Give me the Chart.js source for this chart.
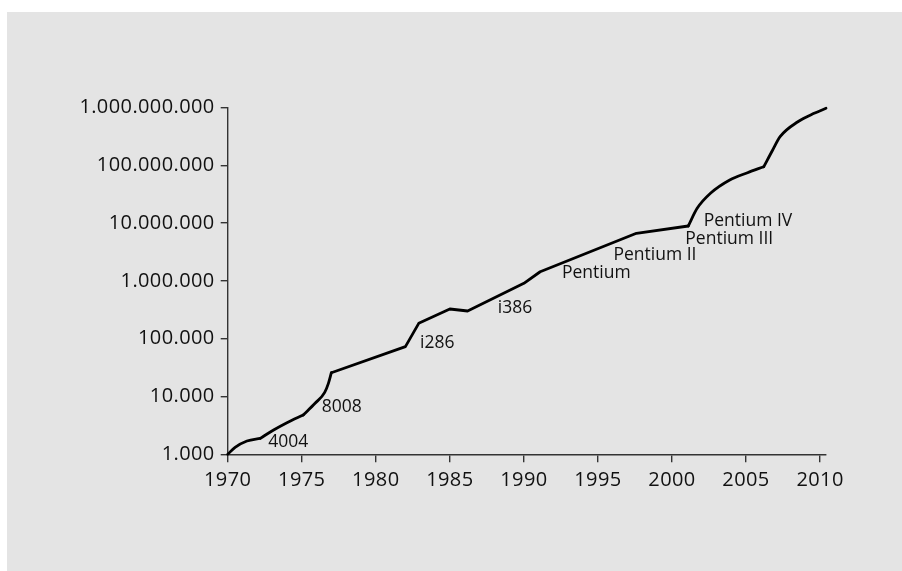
<!DOCTYPE html>
<html>
<head>
<meta charset="utf-8">
<script src="https://cdn.jsdelivr.net/npm/chart.js@4"></script>
<style>
  html, body { margin: 0; padding: 0; background: #ffffff; width: 902px; height: 571px; overflow: hidden; }
  #panel { position: absolute; left: 7px; top: 12px; right: 0; bottom: 0; background: #e4e4e4; }
  #wrap { position: absolute; left: 0; top: 0; width: 902px; height: 571px; }
</style>
</head>
<body>
<div id="panel"></div>
<div id="wrap"><canvas id="c" width="902" height="571"></canvas></div>
<script>
// Years (x) and transistor counts (y)
const years = [1970.0, 1970.5, 1971.3, 1972.2, 1973.1, 1974.0, 1975.1, 1975.9, 1976.55, 1976.8, 1977.0,
               1982.0, 1982.9, 1985.0, 1986.2, 1990.0, 1991.1, 1997.6, 2001.1, 2001.7, 2002.6,
               2003.9, 2005.1, 2006.2, 2006.8, 2007.3, 2008.5, 2009.6, 2010.4];
const transistors = [1000, 1320, 1700, 1890, 2630, 3520, 4790, 7620, 11800, 16900, 25800,
                     72800, 184500, 326600, 301500, 908000, 1440000, 6670000, 8910000, 18000000, 32800000,
                     55700000, 74500000, 94600000, 184000000, 313000000, 567000000, 794000000, 968000000];
// Index ranges of the series: curved stretches and the straight stretch
const curvedParts = [[0, 3], [3, 6], [6, 10], [18, 23], [23, 28]];
const straightParts = [[10, 18]];

// Tick values
const xTicks = [1970, 1975, 1980, 1985, 1990, 1995, 2000, 2005, 2010];
const yTicks = [1000, 10000, 100000, 1000000, 10000000, 100000000, 1000000000];

// Processor labels and their anchor (year, value)
const labelNames = ['4004', '8008', 'i286', 'i386', 'Pentium', 'Pentium II', 'Pentium III', 'Pentium IV'];
const labelYears = [1972.74, 1976.35, 1982.99, 1988.24, 1992.57, 1996.05, 2000.90, 2002.14];
const labelValues = [1652, 6670, 83200, 335600, 1350000, 2800000, 5300000, 11000000];

function fmtDots(v) {
  return String(Math.round(v)).replace(/\B(?=(\d{3})+(?!\d))/g, '.');
}
function pts(a, b) {
  const out = [];
  for (let i = a; i <= b; i++) out.push({ x: years[i], y: transistors[i] });
  return out;
}
const lineStyle = {
  borderColor: '#000000', borderWidth: 2.8, pointRadius: 0, fill: false, clip: false,
  borderJoinStyle: 'round', borderCapStyle: 'round'
};
const datasets = [];
straightParts.forEach(([a, b]) => datasets.push(Object.assign({ data: pts(a, b), tension: 0 }, lineStyle)));
curvedParts.forEach(([a, b]) => datasets.push(Object.assign({ data: pts(a, b), cubicInterpolationMode: 'monotone' }, lineStyle)));

const labelPlugin = {
  id: 'procLabels',
  beforeDraw(chart) { chart.ctx.letterSpacing = '0.4px'; },
  beforeDatasetsDraw(chart) { chart.ctx.letterSpacing = '0px'; },
  afterDatasetsDraw(chart) {
    const ctx = chart.ctx;
    const xs = chart.scales.x, ys = chart.scales.y;
    ctx.save();
    ctx.letterSpacing = '0px';
    ctx.font = '17.5px "Open Sans"';
    ctx.fillStyle = '#111111';
    ctx.textAlign = 'left';
    ctx.textBaseline = 'middle';
    for (let i = 0; i < labelNames.length; i++) {
      ctx.fillText(labelNames[i], xs.getPixelForValue(labelYears[i]), ys.getPixelForValue(labelValues[i]));
    }
    ctx.restore();
  }
};

const tickFont = { family: '"Open Sans"', size: 20 };

new Chart(document.getElementById('c'), {
  type: 'line',
  data: { datasets: datasets },
  options: {
    responsive: false,
    devicePixelRatio: 1,
    animation: false,
    layout: { padding: { left: 0, right: 76, top: 107.5, bottom: 0 } },
    plugins: { legend: { display: false }, tooltip: { enabled: false } },
    scales: {
      x: {
        type: 'linear',
        min: 1970,
        max: 2010.4,
        afterBuildTicks(scale) { scale.ticks = xTicks.map(v => ({ value: v })); },
        afterFit(scale) { scale.height = 571 - 454.3; },
        grid: { display: true, drawOnChartArea: false, drawTicks: true, tickLength: 8, color: '#333333', lineWidth: 1.4 },
        border: { display: true, color: '#333333', width: 1.4 },
        ticks: { color: '#111111', font: tickFont, padding: 6, maxRotation: 0, callback: v => String(v) }
      },
      y: {
        type: 'logarithmic',
        min: 1000,
        max: 1000000000,
        afterBuildTicks(scale) { scale.ticks = yTicks.map(v => ({ value: v })); },
        afterFit(scale) { scale.width = 227.7; },
        grid: { display: true, drawOnChartArea: false, drawTicks: true, tickLength: 7, color: '#333333', lineWidth: 1.4 },
        border: { display: true, color: '#333333', width: 1.4 },
        ticks: { color: '#111111', font: tickFont, padding: 6, callback: v => fmtDots(v) }
      }
    }
  },
  plugins: [labelPlugin]
});
</script>
</body>
</html>
